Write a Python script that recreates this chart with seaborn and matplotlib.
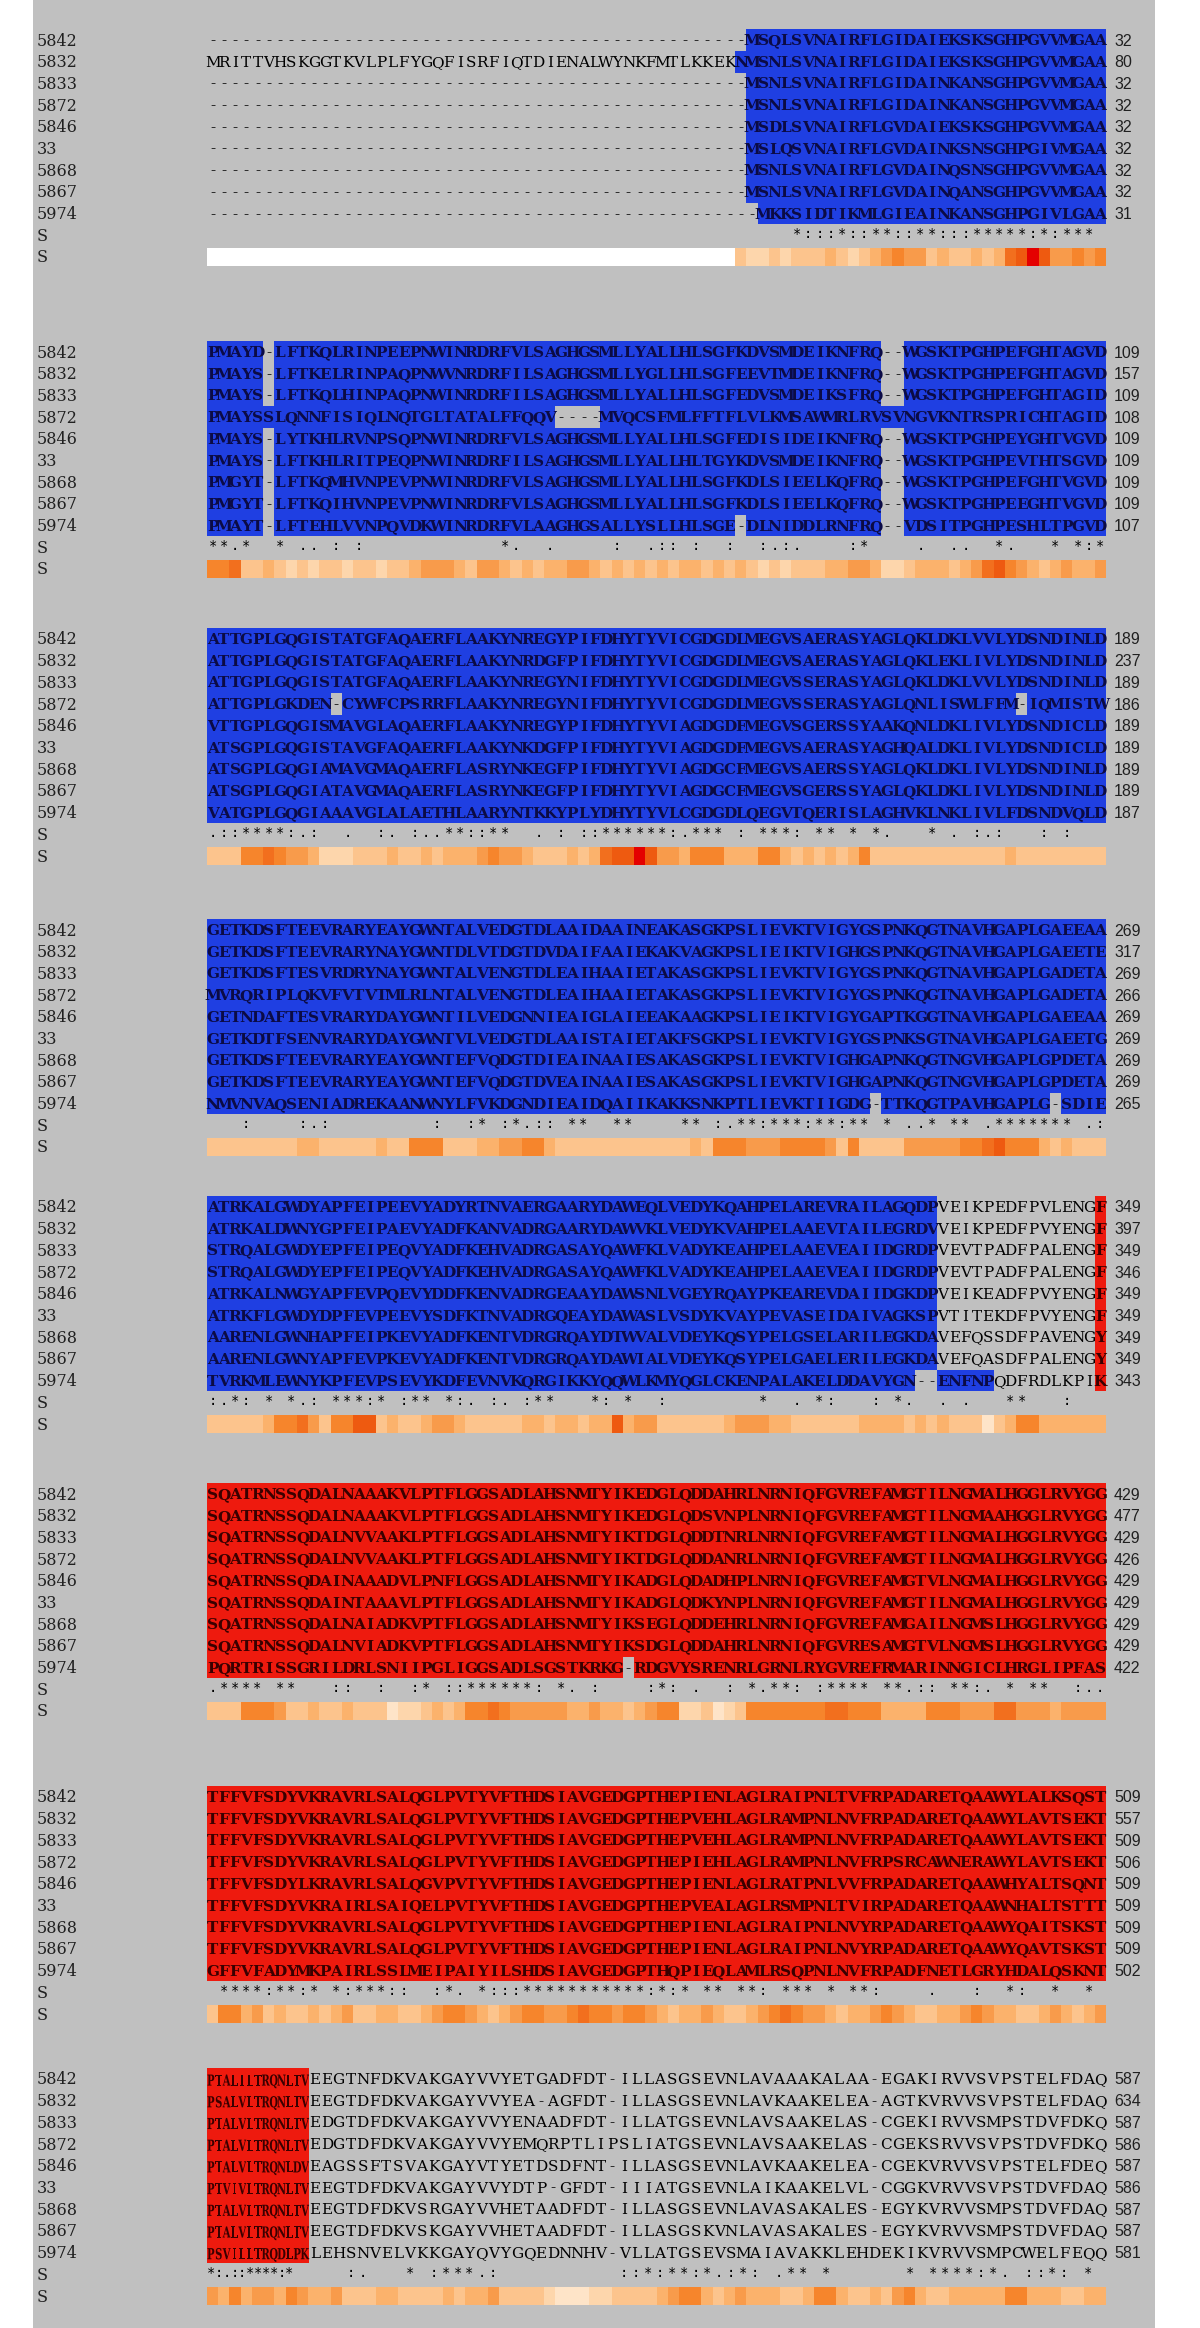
import numpy as np
import matplotlib
matplotlib.use('Agg')
import matplotlib.pyplot as plt
from matplotlib.colors import ListedColormap, LinearSegmentedColormap
from matplotlib.patches import Rectangle, PathPatch
from matplotlib.textpath import TextPath
from matplotlib.font_manager import FontProperties
from matplotlib.transforms import Affine2D
import seaborn as sns

names = ['5842', '5832', '5833', '5872', '5846', '33', '5868', '5867', '5974']

# alignment, 80 columns per block
b1_seq = [
    '------------------------------------------------MSQLSVNAIRFLGIDAIEKSKSGHPGVVMGAA',
    'MRITTVHSKGGTKVLPLFYGQFISRFIQTDIENALWYNKFMTLKKEKNMSNLSVNAIRFLGIDAIEKSKSGHPGVVMGAA',
    '------------------------------------------------MSNLSVNAIRFLGIDAINKANSGHPGVVMGAA',
    '------------------------------------------------MSNLSVNAIRFLGIDAINKANSGHPGVVMGAA',
    '------------------------------------------------MSDLSVNAIRFLGVDAIEKSKSGHPGVVMGAA',
    '------------------------------------------------MSLQSVNAIRFLGVDAINKSNSGHPGIVMGAA',
    '------------------------------------------------MSNLSVNAIRFLGVDAINQSNSGHPGVVMGAA',
    '------------------------------------------------MSNLSVNAIRFLGVDAINQANSGHPGVVMGAA',
    '-------------------------------------------------MKKSIDTIKMLGIEAINKANSGHPGIVLGAA',
]
b2_seq = [
    'PMAYD-LFTKQLRINPEEPNWINRDRFVLSAGHGSMLLYALLHLSGFKDVSMDEIKNFRQ--WGSKTPGHPEFGHTAGVD',
    'PMAYS-LFTKELRINPAQPNWVNRDRFILSAGHGSMLLYGLLHLSGFEEVTMDEIKNFRQ--WGSKTPGHPEFGHTAGVD',
    'PMAYS-LFTKQLHINPAQPNWINRDRFILSAGHGSMLLYALLHLSGFEDVSMDEIKSFRQ--WGSKTPGHPEFGHTAGID',
    'PMAYSSLQNNFISIQLNQTGLTATALFFQQV----MVQCSFMLFFTFLVLKMSAWMRLRVSVNGVKNTRSPRICHTAGID',
    'PMAYS-LYTKHLRVNPSQPNWINRDRFVLSAGHGSMLLYALLHLSGFEDISIDEIKNFRQ--WGSKTPGHPEYGHTVGVD',
    'PMAYS-LFTKHLRITPEQPNWINRDRFILSAGHGSMLLYALLHLTGYKDVSMDEIKNFRQ--WGSKTPGHPEVTHTSGVD',
    'PMGYT-LFTKQMHVNPEVPNWINRDRFVLSAGHGSMLLYALLHLSGFKDLSIEELKQFRQ--WGSKTPGHPEFGHTVGVD',
    'PMGYT-LFTKQIHVNPEVPNWINRDRFVLSAGHGSMLLYALLHLSGFKDLSIEELKQFRQ--WGSKTPGHPEEGHTVGVD',
    'PMAYT-LFTEHLVVNPQVDKWINRDRFVLAAGHGSALLYSLLHLSGE-DLNIDDLRNFRQ--VDSITPGHPESHLTPGVD',
]
b3_seq = [
    'ATTGPLGQGISTATGFAQAERFLAAKYNREGYPIFDHYTYVICGDGDLMEGVSAERASYAGLQKLDKLVVLYDSNDINLD',
    'ATTGPLGQGISTATGFAQAERFLAAKYNRDGFPIFDHYTYVICGDGDLMEGVSAERASYAGLQKLEKLIVLYDSNDINLD',
    'ATTGPLGQGISTATGFAQAERFLAAKYNREGYNIFDHYTYVICGDGDLMEGVSSERASYAGLQKLDKLVVLYDSNDINLD',
    'ATTGPLGKDEN-CYWFCPSRRFLAAKYNREGYNIFDHYTYVICGDGDLMEGVSSERASYAGLQNLISWLFFM-IQMISTW',
    'VTTGPLGQGISMAVGLAQAERFLAAKYNREGYPIFDHYTYVIAGDGDFMEGVSGERSSYAAKQNLDKLIVLYDSNDICLD',
    'ATSGPLGQGISTAVGFAQAERFLAAKYNKDGFPIFDHYTYVIAGDGDFMEGVSAERASYAGHQALDKLIVLYDSNDICLD',
    'ATSGPLGQGIAMAVGMAQAERFLASRYNKEGFPIFDHYTYVIAGDGCFMEGVSAERSSYAGLQKLDKLIVLYDSNDINLD',
    'ATSGPLGQGIATAVGMAQAERFLASRYNKEGFPIFDHYTYVIAGDGCFMEGVSGERSSYAGLQKLDKLIVLYDSNDINLD',
    'VATGPLGQGIAAAVGLALAETHLAARYNTKKYPLYDHYTYVLCGDGDLQEGVTQERISLAGHVKLNKLIVLFDSNDVQLD',
]
b4_seq = [
    'GETKDSFTEEVRARYEAYGWNTALVEDGTDLAAIDAAINEAKASGKPSLIEVKTVIGYGSPNKQGTNAVHGAPLGAEEAA',
    'GETKDSFTEEVRARYNAYGWNTDLVTDGTDVDAIFAAIEKAKVAGKPSLIEIKTVIGHGSPNKQGTNAVHGAPLGAEETE',
    'GETKDSFTESVRDRYNAYGWNTALVENGTDLEAIHAAIETAKASGKPSLIEVKTVIGYGSPNKQGTNAVHGAPLGADETA',
    'MVRQRIPLQKVFVTVTMLRLNTALVENGTDLEAIHAAIETAKASGKPSLIEVKTVIGYGSPNKQGTNAVHGAPLGADETA',
    'GETNDAFTESVRARYDAYGWNTILVEDGNNIEAIGLAIEEAKAAGKPSLIEIKTVIGYGAPTKGGTNAVHGAPLGAEEAA',
    'GETKDTFSENVRARYDAYGWNTVLVEDGTDLAAISTAIETAKFSGKPSLIEVKTVIGYGSPNKSGTNAVHGAPLGAEETG',
    'GETKDSFTEEVRARYEAYGWNTEFVQDGTDIEAINAAIESAKASGKPSLIEVKTVIGHGAPNKQGTNGVHGAPLGPDETA',
    'GETKDSFTEEVRARYEAYGWNTEFVQDGTDVEAINAAIESAKASGKPSLIEVKTVIGHGAPNKQGTNGVHGAPLGPDETA',
    'NMVNVAQSENIADREKAANWNYLFVKDGNDIEAIDQAIIKAKKSNKPTLIEVKTIIGDG-TTKQGTPAVHGAPLG-SDIE',
]
b5_seq = [
    'ATRKALGWDYAPFEIPEEVYADYRTNVAERGAARYDAWEQLVEDYKQAHPELAREVRAILAGQDPVEIKPEDFPVLENGF',
    'ATRKALDWNYGPFEIPAEVYADFKANVADRGAARYDAWVKLVEDYKVAHPELAAEVTAILEGRDVVEIKPEDFPVYENGF',
    'STRQALGWDYEPFEIPEQVYADFKEHVADRGASAYQAWFKLVADYKEAHPELAAEVEAIIDGRDPVEVTPADFPALENGF',
    'STRQALGWDYEPFEIPEQVYADFKEHVADRGASAYQAWFKLVADYKEAHPELAAEVEAIIDGRDPVEVTPADFPALENGF',
    'ATRKALNWGYAPFEVPQEVYDDFKENVADRGEAAYDAWSNLVGEYRQAYPKEAREVDAIIDGKDPVEIKEADFPVYENGF',
    'ATRKFLGWDYDPFEVPEEVYSDFKTNVADRGQEAYDAWASLVSDYKVAYPEVASEIDAIVAGKSPVTITEKDFPVYENGF',
    'AARENLGWNHAPFEIPKEVYADFKENTVDRGRQAYDTWVALVDEYKQSYPELGSELARILEGKDAVEFQSSDFPAVENGY',
    'AARENLGWNYAPFEVPKEVYADFKENTVDRGRQAYDAWIALVDEYKQSYPELGAELERILEGKDAVEFQASDFPALENGY',
    'TVRKMLEWNYKPFEVPSEVYKDFEVNVKQRGIKKYQQWLKMYQGLCKENPALAKELDDAVYGN--ENFNPQDFRDLKPIK',
]
b6_seq = [
    'SQATRNSSQDALNAAAKVLPTFLGGSADLAHSNMTYIKEDGLQDDAHRLNRNIQFGVREFAMGTILNGMALHGGLRVYGG',
    'SQATRNSSQDALNAAAKVLPTFLGGSADLAHSNMTYIKEDGLQDSVNPLNRNIQFGVREFAMGTILNGMAAHGGLRVYGG',
    'SQATRNSSQDALNVVAAKLPTFLGGSADLAHSNMTYIKTDGLQDDTNRLNRNIQFGVREFAMGTILNGMALHGGLRVYGG',
    'SQATRNSSQDALNVVAAKLPTFLGGSADLAHSNMTYIKTDGLQDDANRLNRNIQFGVREFAMGTILNGMALHGGLRVYGG',
    'SQATRNSSQDAINAAADVLPNFLGGSADLAHSNMTYIKADGLQDADHPLNRNIQFGVREFAMGTVLNGMALHGGLRVYGG',
    'SQATRNSSQDAINTAAAVLPTFLGGSADLAHSNMTYIKADGLQDKYNPLNRNIQFGVREFAMGTILNGMALHGGLRVYGG',
    'SQATRNSSQDALNAIADKVPTFLGGSADLAHSNMTYIKSEGLQDDEHRLNRNIQFGVREFAMGAILNGMSLHGGLRVYGG',
    'SQATRNSSQDALNVIADKVPTFLGGSADLAHSNMTYIKSDGLQDDAHRLNRNIQFGVRESAMGTVLNGMSLHGGLRVYGG',
    'PQRTRISSGRILDRLSNIIPGLIGGSADLSGSTKRKG-RDGVYSRENRLGRNLRYGVREFRMARINNGICLHRGLIPFAS',
]
b7_seq = [
    'TFFVFSDYVKRAVRLSALQGLPVTYVFTHDSIAVGEDGPTHEPIENLAGLRAIPNLTVFRPADARETQAAWYLALKSQST',
    'TFFVFSDYVKRAVRLSALQGLPVTYVFTHDSIAVGEDGPTHEPVEHLAGLRAMPNLNVFRPADARETQAAWYLAVTSEKT',
    'TFFVFSDYVKRAVRLSALQGLPVTYVFTHDSIAVGEDGPTHEPVEHLAGLRAMPNLNVFRPADARETQAAWYLAVTSEKT',
    'TFFVFSDYVKRAVRLSALQGLPVTYVFTHDSIAVGEDGPTHEPIEHLAGLRAMPNLNVFRPSRCAWNERAWYLAVTSEKT',
    'TFFVFSDYLKRAVRLSALQGVPVTYVFTHDSIAVGEDGPTHEPIENLAGLRATPNLVVFRPADARETQAAWHYALTSQNT',
    'TFFVFSDYVKRAIRLSAIQELPVTYVFTHDSIAVGEDGPTHEPVEALAGLRSMPNLTVIRPADARETQAAWNHALTSTTT',
    'TFFVFSDYVKRAVRLSALQGLPVTYVFTHDSIAVGEDGPTHEPIENLAGLRAIPNLNVYRPADARETQAAWYQAITSKST',
    'TFFVFSDYVKRAVRLSALQGLPVTYVFTHDSIAVGEDGPTHEPIENLAGLRAIPNLNVYRPADARETQAAWYQAVTSKST',
    'GFFVFADYMKPAIRLSSLMEIPAIYILSHDSIAVGEDGPTHQPIEQLAMLRSQPNLNVFRPADFNETLGRYHDALQSKNT',
]
b8_seq = [
    'PTALILTRQNLTVEEGTNFDKVAKGAYVVYETGADFDT-ILLASGSEVNLAVAAAKALAA-EGAKIRVVSVPSTELFDAQ',
    'PSALVLTRQNLTVEEGTDFDKVAKGAYVVYEA-AGFDT-ILLASGSEVNLAVKAAKELEA-AGTKVRVVSVPSTELFDAQ',
    'PTALVLTRQNLTVEDGTDFDKVAKGAYVVYENAADFDT-ILLATGSEVNLAVSAAKELAS-CGEKIRVVSMPSTDVFDKQ',
    'PTALVLTRQNLTVEDGTDFDKVAKGAYVVYEMQRPTLIPSLIATGSEVNLAVSAAKELAS-CGEKSRVVSVPSTDVFDKQ',
    'PTALVLTRQNLDVEAGSSFTSVAKGAYVTYETDSDFNT-ILLASGSEVNLAVKAAKELEA-CGEKVRVVSVPSTELFDEQ',
    'PTVIVLTRQNLTVEEGTDFDKVAKGAYVVYDTP-GFDT-IIIATGSEVNLAIKAAKELVL-CGGKVRVVSVPSTDVFDAQ',
    'PTALVLTRQNLTVEEGTDFDKVSRGAYVVHETAADFDT-ILLASGSEVNLAVASAKALES-EGYKVRVVSMPSTDVFDAQ',
    'PTALVLTRQNLTVEEGTDFDKVSKGAYVVHETAADFDT-ILLASGSKVNLAVASAKALES-EGYKVRVVSMPSTDVFDAQ',
    'PSVILLTRQDLPKLEHSNVELVKKGAYQVYGQEDNNHV-VLLATGSEVSMAIAVAKKLEHDEKIKVRVVSMPCWELFEQQ',
]

# conservation line under each block
b1_sym = '                                                    *:::*::**::**:::*****:*:***'
b2_sym = '**.*  * .. : :            *.  .     :  .:: :  :  :.:.    :*    .  ..  *.   * *:*'
b3_sym = '.::****:.:  .  :. :..**::**  . : ::******:.*** : ***: ** * *.   * . :.:   : :   '
b4_sym = '   :    :.:         :  :* :*.:: **  **    ** :.**:***:**:** * ..* ** .******* .:  '
b5_sym = ':.*: * *.: ***:* :** *:. :. :**   *: *  :        *  . *:   : *.  . .   **   :   '
b6_sym = '.**** **   ::  :  :* ::******: *. :    :*: .  : *.**: :**** **.:: **:. * **  :..'
b7_sym = ' ****:**:* *:***::  :*. *:::***********:*:* ** **: *** * **:    .   :  *:  *  *'
b8_sym = '*:.::****:*     :.   * :***.:          ::*:**:*.:*: .** *      * ****:*. ::*: *'

# end positions printed on the right
b1_end = [32, 80, 32, 32, 32, 32, 32, 32, 31]
b2_end = [109, 157, 109, 108, 109, 109, 109, 109, 107]
b3_end = [189, 237, 189, 186, 189, 189, 189, 189, 187]
b4_end = [269, 317, 269, 266, 269, 269, 269, 269, 265]
b5_end = [349, 397, 349, 346, 349, 349, 349, 349, 343]
b6_end = [429, 477, 429, 426, 429, 429, 429, 429, 422]
b7_end = [509, 557, 509, 506, 509, 509, 509, 509, 502]
b8_end = [587, 634, 587, 586, 587, 586, 587, 587, 581]

# conservation strength strip (0-10), None = no column data
b1_heat = [None] * 47 + [3, 2, 2, 3, 2, 3, 3, 3, 4, 3, 2, 3, 4, 5, 6, 5, 5, 3, 4, 3,
                         3, 4, 3, 4, 7, 8, 10, 8, 5, 5, 6, 5, 6]
b2_heat = [6, 6, 7, 3, 3, 4, 3, 2, 3, 2, 3, 3, 2, 3, 3, 2, 3, 3, 4, 5,
           5, 5, 4, 3, 5, 5, 4, 3, 4, 3, 4, 4, 5, 5, 4, 3, 4, 3, 4, 3,
           4, 3, 4, 4, 3, 4, 3, 4, 3, 2, 3, 2, 3, 3, 3, 4, 4, 5, 5, 4,
           2, 2, 3, 4, 4, 4, 3, 4, 5, 7, 8, 6, 5, 4, 3, 4, 5, 4, 4, 5]
b3_heat = [3, 3, 3, 6, 6, 7, 6, 5, 5, 4, 2, 2, 2, 3, 3, 3, 4, 3, 3, 4,
           3, 4, 4, 4, 5, 6, 5, 5, 4, 3, 3, 3, 4, 3, 4, 7, 8, 8, 10, 8,
           5, 5, 4, 6, 6, 6, 4, 4, 4, 6, 6, 4, 3, 4, 3, 4, 3, 4, 6, 3,
           3, 3, 3, 3, 3, 3, 3, 3, 3, 3, 3, 4, 3, 3, 3, 3, 3, 3, 3, 3]
b4_heat = [3, 3, 3, 3, 3, 3, 3, 3, 4, 4, 3, 3, 3, 3, 3, 4, 3, 3, 6, 6,
           6, 3, 3, 3, 4, 4, 5, 5, 6, 6, 4, 3, 3, 3, 3, 3, 3, 3, 3, 3,
           3, 3, 3, 4, 3, 6, 6, 6, 5, 5, 5, 6, 6, 6, 6, 5, 3, 6, 3, 3,
           3, 3, 5, 5, 5, 5, 5, 6, 6, 7, 8, 6, 6, 6, 4, 3, 4, 3, 3, 3]
b5_heat = [3, 3, 3, 3, 3, 4, 6, 6, 7, 5, 3, 6, 6, 8, 8, 3, 4, 3, 3, 4,
           5, 5, 4, 3, 3, 3, 3, 3, 4, 4, 3, 4, 4, 3, 4, 4, 8, 4, 5, 5,
           3, 3, 3, 3, 3, 3, 4, 5, 5, 5, 4, 4, 3, 3, 3, 3, 3, 3, 4, 4,
           4, 4, 3, 4, 3, 4, 3, 3, 3, 1, 3, 4, 6, 6, 4, 4, 4, 4, 4, 4]
b6_heat = [3, 3, 3, 6, 6, 6, 5, 3, 3, 4, 3, 3, 4, 3, 3, 3, 1, 2, 2, 3,
           4, 3, 4, 6, 6, 7, 6, 5, 5, 5, 5, 5, 4, 4, 5, 4, 4, 3, 4, 5,
           6, 6, 2, 2, 3, 1, 2, 3, 6, 6, 6, 6, 6, 6, 6, 7, 7, 6, 6, 6,
           4, 4, 4, 4, 6, 6, 6, 5, 5, 5, 7, 7, 5, 5, 5, 4, 5, 5, 5, 5]
b7_heat = [3, 6, 6, 4, 5, 3, 4, 3, 3, 4, 3, 4, 5, 3, 3, 4, 4, 3, 3, 4,
           5, 6, 6, 5, 4, 3, 4, 5, 6, 6, 5, 5, 6, 7, 6, 6, 5, 6, 6, 5,
           4, 3, 4, 4, 5, 4, 3, 3, 4, 5, 6, 7, 6, 5, 5, 4, 3, 4, 4, 5,
           6, 5, 4, 3, 3, 4, 4, 5, 6, 5, 4, 4, 3, 3, 4, 5, 4, 3, 4, 5]
b8_heat = [5, 4, 6, 4, 5, 5, 4, 6, 5, 4, 4, 5, 3, 3, 3, 4, 4, 3, 3, 3,
           3, 4, 3, 4, 4, 5, 3, 3, 3, 3, 2, 1, 1, 1, 2, 2, 3, 3, 3, 3,
           4, 5, 6, 6, 4, 3, 4, 5, 4, 4, 4, 3, 3, 4, 6, 6, 4, 3, 3, 4,
           3, 5, 6, 4, 3, 3, 4, 4, 4, 4, 4, 6, 6, 4, 4, 4, 3, 3, 4, 4]

# domain spans in alignment columns (blue = first domain, red = second)
blue_start = [48, 47, 48, 48, 48, 48, 48, 48, 49]
blue_end = [384, 384, 384, 384, 384, 384, 384, 384, 389]
red_start = [399] * 9
red_end = [572] * 9

blocks = [
    (b1_seq, b1_sym, b1_heat, b1_end), (b2_seq, b2_sym, b2_heat, b2_end),
    (b3_seq, b3_sym, b3_heat, b3_end), (b4_seq, b4_sym, b4_heat, b4_end),
    (b5_seq, b5_sym, b5_heat, b5_end), (b6_seq, b6_sym, b6_heat, b6_end),
    (b7_seq, b7_sym, b7_heat, b7_end), (b8_seq, b8_sym, b8_heat, b8_end),
]

W, H = 1200, 2328
GRAY = '#c0c0c0'
BLUE = '#1f3fe2'
RED = '#ee1a0e'
heat_cmap = LinearSegmentedColormap.from_list(
    'cons', ['#fff1e2', '#fdd6ac', '#fbb26c', '#f6852c', '#ee5a10', '#e40000'])
dom_cmap = ListedColormap([BLUE, RED])
bold_serif = FontProperties(family='DejaVu Serif', weight='bold')

fig = plt.figure(figsize=(W / 100, H / 100), dpi=100)
fig.patch.set_facecolor('white')
fig.patches.append(Rectangle((33 / W, 0), (1155 - 33) / W, 1, transform=fig.transFigure,
                             facecolor=GRAY, edgecolor='none', zorder=-10))

rh = 21.7      # row height, px
x_left, x_right = 207, 1106
row0 = [40, 352, 639, 930, 1207, 1494, 1797, 2079]
# column segments (first col, last col + 1, left px, right px); the last block
# has its coloured stretch squeezed in the source picture
segments = [[(0, 80, x_left, x_right)]] * 7 + [[(0, 13, x_left, 309), (13, 80, 309, x_right)]]


def ftext(x, y, s, **kw):
    fig.text(x / W, 1 - y / H, s, **kw)


def squeezed_letter(ax, xc, yc, ch, col_px, color):
    # bold glyph drawn as a path: normal height, horizontally condensed
    tp = TextPath((0, 0), ch, size=1, prop=bold_serif)
    ext = tp.get_extents()
    sx = 10.0 / col_px          # em width 10 px, in column units
    sy = 15.2 / rh              # em height 15.2 px, in row units
    tr = Affine2D().translate(-(ext.x0 + ext.x1) / 2, -0.365).scale(sx, -sy).translate(xc, yc)
    ax.add_patch(PathPatch(tr.transform_path(tp), facecolor=color, edgecolor='none',
                           clip_on=False))


for k, (seqs, sym, heat, ends) in enumerate(blocks):
    seqs = [s.ljust(80)[:80] for s in seqs]
    sym = sym.ljust(80)[:80]
    col0 = 80 * k
    cls = np.zeros((9, 80))
    for i, s in enumerate(seqs):
        for j, ch in enumerate(s):
            a = col0 + j
            if ch == '-':
                continue
            if blue_start[i] <= a <= blue_end[i]:
                cls[i, j] = 1
            elif red_start[i] <= a <= red_end[i]:
                cls[i, j] = 2

    top = row0[k] - rh / 2
    for (c0, c1, p0, p1) in segments[k]:
        n = c1 - c0
        col_px = (p1 - p0) / n
        ax = fig.add_axes([p0 / W, 1 - (top + 9 * rh) / H, (p1 - p0) / W, 9 * rh / H])
        sub = cls[:, c0:c1]
        sns.heatmap(sub, mask=(sub == 0), cmap=dom_cmap, vmin=0.5, vmax=2.5,
                    cbar=False, xticklabels=False, yticklabels=False, ax=ax)
        ax.set_axis_off()
        for i, s in enumerate(seqs):
            for j in range(n):
                ch = s[c0 + j]
                if ch == ' ':
                    continue
                c = sub[i, j]
                if c == 1:
                    kw = dict(color='#0b0b45', fontweight='bold')
                elif c == 2:
                    kw = dict(color='#3a0000', fontweight='bold')
                else:
                    kw = dict(color='black')
                if col_px < 10:
                    squeezed_letter(ax, j + 0.5, i + 0.55, ch, col_px, kw['color'])
                else:
                    ax.text(j + 0.5, i + 0.55, ch, ha='center', va='center', fontsize=11,
                            family='DejaVu Serif', clip_on=False, **kw)
        for j in range(n):
            ch = sym[c0 + j]
            if ch != ' ':
                ax.text(j + 0.5, 9.45, ch, ha='center', va='center', fontsize=10,
                        family='DejaVu Sans Mono', color='black', clip_on=False)

    for i in range(9):
        ftext(37, row0[k] + i * rh + 1, names[i], ha='left', va='center', fontsize=11.5,
              family='DejaVu Serif', color='#202020')
        ftext(1114, row0[k] + i * rh + 1, str(ends[i]), ha='left', va='center', fontsize=11.5,
              family='Liberation Sans', color='#202020')
    ftext(37, row0[k] + 9 * rh + 1, 'S', ha='left', va='center', fontsize=11.5,
          family='DejaVu Serif', color='#202020')
    ftext(37, row0[k] + 10 * rh + 1, 'S', ha='left', va='center', fontsize=11.5,
          family='DejaVu Serif', color='#202020')

    # conservation strip
    hv = np.array([[np.nan if v is None else v for v in heat]], dtype=float)
    s_top = row0[k] + 10 * rh - 9
    sax = fig.add_axes([x_left / W, 1 - (s_top + 18) / H, (x_right - x_left) / W, 18 / H])
    sax.set_facecolor('white')
    sns.heatmap(hv, mask=np.isnan(hv), cmap=heat_cmap, vmin=0, vmax=10, cbar=False,
                xticklabels=False, yticklabels=False, ax=sax)
    for sp in sax.spines.values():
        sp.set_visible(False)

fig.savefig('out.png', dpi=100, facecolor='white')
